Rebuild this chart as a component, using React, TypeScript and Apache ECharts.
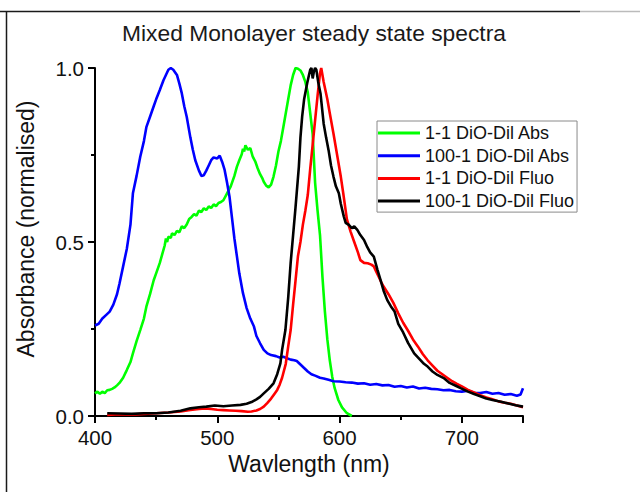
import React, { useEffect, useRef } from "react";
import * as echarts from "echarts";

const FONT = "'Liberation Sans', Arial, Helvetica, sans-serif";

const seriesNames = [
  "1-1 DiO-Dil Abs",
  "100-1 DiO-Dil Abs",
  "1-1 DiO-Dil Fluo",
  "100-1 DiO-Dil Fluo",
];
const seriesColors = ["#00ff00", "#0000ff", "#ff0000", "#000000"];

const xTicks = [400, 500, 600, 700];
const yTicks = [0.0, 0.5, 1.0];

// 1-1 DiO-Dil Abs  [wavelength nm, normalised value]
const green11Abs: number[][] = [
  [400, 0.065], [402, 0.07], [404, 0.064], [406, 0.07], [408, 0.066], [410, 0.074],
  [412, 0.075], [414, 0.078], [416, 0.082], [418, 0.088], [420, 0.095], [423, 0.11],
  [426, 0.132], [429, 0.155], [431, 0.18], [434, 0.215], [437, 0.247], [440, 0.28],
  [442, 0.314], [445, 0.35], [448, 0.39], [450, 0.41], [453, 0.44], [455, 0.465],
  [457, 0.49], [458, 0.51], [459, 0.5], [460, 0.515], [462, 0.512], [463, 0.525],
  [465, 0.52], [467, 0.532], [469, 0.528], [471, 0.545], [473, 0.54], [475, 0.55],
  [477, 0.566], [479, 0.572], [481, 0.58], [483, 0.576], [485, 0.59], [487, 0.586],
  [489, 0.597], [491, 0.592], [493, 0.602], [495, 0.598], [497, 0.608], [499, 0.603],
  [501, 0.612], [503, 0.615], [505, 0.62], [508, 0.64], [511, 0.66], [514, 0.69],
  [516, 0.716], [518, 0.735], [520, 0.752], [521, 0.768], [522, 0.76], [523, 0.778],
  [525, 0.765], [527, 0.77], [529, 0.745], [531, 0.732], [533, 0.712], [535, 0.695],
  [537, 0.682], [538, 0.673], [540, 0.662], [542, 0.657], [544, 0.665], [546, 0.688],
  [548, 0.72], [550, 0.76], [552, 0.79], [554, 0.83], [556, 0.87], [558, 0.91],
  [560, 0.95], [562, 0.98], [564, 1.0], [566, 0.998], [568, 0.993], [570, 0.98],
  [572, 0.96], [574, 0.93], [576, 0.87], [578, 0.81], [580, 0.67], [582, 0.59],
  [584, 0.52], [586, 0.4], [588, 0.3], [590, 0.22], [592, 0.16], [594, 0.113],
  [596, 0.08], [599, 0.046], [602, 0.025], [606, 0.008], [610, 0.0],
];

// 100-1 DiO-Dil Abs
const blue1001Abs: number[][] = [
  [400, 0.26], [403, 0.265], [406, 0.28], [409, 0.29], [412, 0.3], [415, 0.32],
  [418, 0.35], [420, 0.38], [423, 0.43], [426, 0.48], [429, 0.55], [431, 0.64],
  [434, 0.69], [437, 0.745], [440, 0.79], [442, 0.83], [445, 0.86], [448, 0.89],
  [450, 0.91], [453, 0.937], [456, 0.965], [458, 0.98], [460, 0.995], [462, 1.0],
  [464, 0.995], [467, 0.98], [469, 0.955], [471, 0.927], [473, 0.89], [475, 0.86],
  [478, 0.8], [480, 0.765], [482, 0.735], [485, 0.705], [487, 0.69], [489, 0.692],
  [491, 0.705], [493, 0.72], [495, 0.735], [497, 0.743], [500, 0.74], [502, 0.748],
  [504, 0.73], [506, 0.707], [508, 0.67], [510, 0.63], [512, 0.57], [514, 0.51],
  [516, 0.46], [518, 0.41], [521, 0.353], [524, 0.31], [527, 0.28], [530, 0.257],
  [532, 0.23], [535, 0.209], [538, 0.19], [541, 0.18], [544, 0.175], [548, 0.172],
  [551, 0.168], [554, 0.17], [557, 0.166], [560, 0.162], [563, 0.16], [565, 0.158],
  [568, 0.148], [571, 0.138], [574, 0.128], [577, 0.12], [580, 0.116], [584, 0.11],
  [587, 0.108], [591, 0.104], [595, 0.1], [600, 0.099], [605, 0.097], [610, 0.096],
  [615, 0.093], [620, 0.094], [625, 0.09], [630, 0.092], [635, 0.088], [640, 0.089],
  [645, 0.084], [650, 0.086], [655, 0.082], [660, 0.085], [665, 0.079], [670, 0.081],
  [675, 0.078], [680, 0.077], [685, 0.074], [690, 0.075], [695, 0.071], [700, 0.07],
  [705, 0.073], [710, 0.067], [715, 0.066], [720, 0.069], [725, 0.064], [730, 0.066],
  [735, 0.061], [740, 0.063], [745, 0.058], [748, 0.062], [750, 0.08],
];

// 1-1 DiO-Dil Fluo
const red11Fluo: number[][] = [
  [410, 0.003], [420, 0.005], [430, 0.004], [440, 0.006], [450, 0.008], [460, 0.01],
  [470, 0.013], [478, 0.017], [485, 0.02], [490, 0.022], [495, 0.02], [500, 0.018],
  [505, 0.017], [510, 0.016], [515, 0.015], [520, 0.014], [525, 0.012], [528, 0.013],
  [532, 0.016], [535, 0.02], [538, 0.027], [541, 0.038], [544, 0.05], [547, 0.065],
  [549, 0.075], [551, 0.09], [553, 0.11], [556, 0.15], [558, 0.2], [560, 0.247],
  [562, 0.32], [564, 0.39], [566, 0.46], [568, 0.5], [570, 0.55], [572, 0.59],
  [574, 0.635], [576, 0.71], [578, 0.78], [580, 0.85], [582, 0.92], [584, 0.985],
  [585, 1.0], [587, 0.96], [590, 0.91], [592, 0.87], [595, 0.812], [598, 0.75],
  [601, 0.688], [603, 0.64], [606, 0.565], [609, 0.53], [612, 0.5], [615, 0.47],
  [617, 0.448], [620, 0.44], [623, 0.439], [626, 0.435], [628, 0.43], [630, 0.415],
  [632, 0.4], [634, 0.385], [636, 0.372], [640, 0.35], [644, 0.325], [648, 0.295],
  [652, 0.268], [656, 0.245], [660, 0.22], [664, 0.2], [668, 0.178], [672, 0.16],
  [676, 0.145], [680, 0.13], [684, 0.12], [688, 0.11], [692, 0.1], [696, 0.092],
  [700, 0.085], [705, 0.075], [710, 0.068], [715, 0.06], [720, 0.053], [725, 0.048],
  [730, 0.042], [735, 0.038], [740, 0.035], [745, 0.03], [750, 0.025],
];

// 100-1 DiO-Dil Fluo
const black1001Fluo: number[][] = [
  [410, 0.008], [420, 0.007], [430, 0.006], [440, 0.008], [450, 0.008], [460, 0.01],
  [470, 0.015], [478, 0.022], [485, 0.025], [491, 0.027], [498, 0.03], [505, 0.028],
  [512, 0.03], [519, 0.032], [524, 0.035], [528, 0.04], [532, 0.048], [535, 0.055],
  [538, 0.065], [542, 0.078], [546, 0.094], [549, 0.12], [551.6, 0.151], [553, 0.19],
  [555.7, 0.247], [558, 0.34], [560, 0.44], [562, 0.52], [564, 0.6], [566.7, 0.716],
  [568, 0.8], [569.4, 0.86], [571, 0.91], [573.5, 0.956], [575, 0.98], [576, 0.995],
  [577, 1.0], [578, 0.97], [579, 0.99], [580, 1.0], [581, 0.995], [582.5, 0.96],
  [584.4, 0.927], [587, 0.84], [589, 0.8], [591, 0.764], [593, 0.72], [595, 0.688],
  [597, 0.66], [599.4, 0.64], [601, 0.61], [603.5, 0.573], [605, 0.555], [607.6, 0.549],
  [610, 0.54], [612, 0.545], [614.5, 0.535], [617, 0.52], [620, 0.506], [622.7, 0.485],
  [625, 0.47], [628, 0.458], [631, 0.42], [633.6, 0.39], [636, 0.36], [639, 0.333],
  [642, 0.315], [645, 0.3], [648, 0.265], [652, 0.24], [656, 0.21], [661, 0.18],
  [665, 0.165], [669, 0.15], [672, 0.142], [676, 0.128], [680, 0.118], [685.6, 0.108],
  [690, 0.095], [695, 0.087], [699, 0.08], [705, 0.07], [710, 0.063], [715.6, 0.056],
  [720, 0.05], [725, 0.046], [732, 0.041], [738, 0.036], [744, 0.031], [750, 0.027],
];

const seriesData = [green11Abs, blue1001Abs, red11Fluo, black1001Fluo];

export default function App() {
  const ref = useRef<HTMLDivElement>(null);

  useEffect(() => {
    if (!ref.current) return;
    const chart = echarts.init(ref.current, undefined, { renderer: "svg" });
    const axisText = () => ({ fontFamily: FONT, color: "#111" });
    const makeAxisCommon = () => ({
      splitLine: { show: false },
      axisLine: { show: true, lineStyle: { color: "#000", width: 2 } },
      axisTick: { show: true, length: 7, lineStyle: { color: "#000", width: 2 } },
      minorTick: { show: true, splitNumber: 2, length: 4, lineStyle: { color: "#000", width: 2 } },
    });
    chart.setOption({
      animation: false,
      backgroundColor: "#ffffff",
      title: {
        text: "Mixed Monolayer steady state spectra",
        left: 122,
        top: 21,
        padding: 0,
        textStyle: { fontFamily: FONT, fontSize: 22.8, fontWeight: "normal", color: "#1a1a1a" },
      },
      grid: { left: 95, right: 117, top: 68, bottom: 76 },
      legend: {
        orient: "vertical",
        left: 377,
        top: 121,
        padding: [3, 3, 2, 1],
        itemWidth: 42,
        itemHeight: 3,
        itemGap: 4.7,
        icon: "rect",
        borderColor: "#8a8a8a",
        borderWidth: 1,
        backgroundColor: "#ffffff",
        data: seriesNames,
        textStyle: { fontFamily: FONT, fontSize: 18, color: "#111", lineHeight: 18 },
      },
      xAxis: {
        type: "value",
        min: 400,
        max: 750,
        interval: 100,
        name: "Wavlength (nm)",
        nameLocation: "middle",
        nameGap: 32,
        nameTextStyle: { ...axisText(), fontSize: 23 },
        ...makeAxisCommon(),
        axisLabel: {
          ...axisText(),
          fontSize: 20.5,
          margin: 11,
          showMaxLabel: false,
          formatter: (v: number) => (xTicks.includes(v) ? String(v) : ""),
        },
      },
      yAxis: {
        type: "value",
        min: 0,
        max: 1,
        interval: 0.5,
        ...makeAxisCommon(),
        axisLabel: {
          ...axisText(),
          fontSize: 20.5,
          margin: 11,
          formatter: (v: number) =>
            yTicks.some((t) => Math.abs(t - v) < 1e-9) ? v.toFixed(1) : "",
        },
      },
      graphic: [
        {
          type: "line",
          shape: { x1: 0, y1: 11.5, x2: 580, y2: 11.5 },
          style: { stroke: "#1a1a1a", lineWidth: 1.5 },
        },
        {
          type: "line",
          shape: { x1: 580, y1: 11.5, x2: 640, y2: 11.5 },
          style: { stroke: "#bbbbbb", lineWidth: 1.5 },
        },
        {
          type: "line",
          shape: { x1: 6.5, y1: 11, x2: 6.5, y2: 492 },
          style: { stroke: "#1a1a1a", lineWidth: 1.5 },
        },
        {
          type: "text",
          x: 26,
          y: 229,
          rotation: Math.PI / 2,
          style: {
            text: "Absorbance (normalised)",
            fontFamily: FONT,
            fontSize: 23,
            fill: "#111",
            align: "center",
            verticalAlign: "middle",
          },
        },
      ],
      series: seriesNames.map((name, i) => ({
        name,
        type: "line",
        data: seriesData[i],
        showSymbol: false,
        symbol: "none",
        smooth: false,
        clip: true,
        color: seriesColors[i],
        lineStyle: { color: seriesColors[i], width: 2.6 },
        z: 2 + i,
      })),
    });
    return () => chart.dispose();
  }, []);

  return (
    <div
      ref={ref}
      style={{ position: "absolute", left: 0, top: 0, width: 640, height: 492, background: "#fff" }}
    />
  );
}
